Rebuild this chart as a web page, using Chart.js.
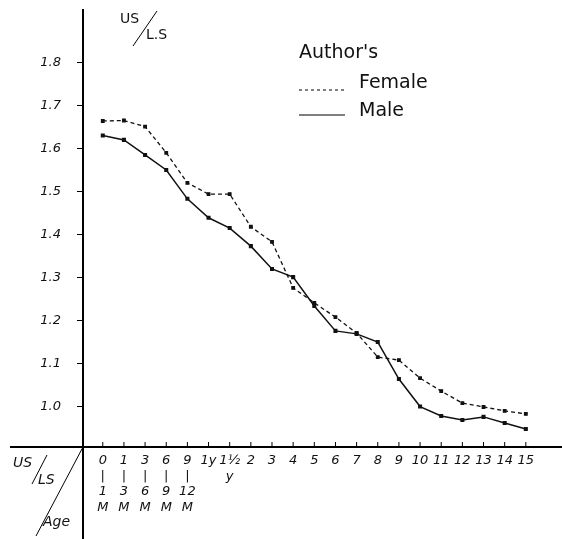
<!DOCTYPE html>
<html>
<head>
<meta charset="utf-8">
<script src="https://cdn.jsdelivr.net/npm/chart.js@4.4.1/dist/chart.umd.min.js"></script>
<style>
  html, body { margin: 0; padding: 0; background: #fff; }
  canvas { display: block; }
</style>
</head>
<body>
<canvas id="ratio-chart" width="562" height="539"></canvas>
<script>
// age categories along the bottom
const ageLabels = ['0', '1', '3', '6', '9', '1y', '1½', '2', '3', '4', '5', '6', '7', '8', '9', '10', '11', '12', '13', '14', '15'];
// second rows under the first labels (months) and the 1½ year label
const ageSubLabels = [['|', '1', 'M'], ['|', '3', 'M'], ['|', '6', 'M'], ['|', '9', 'M'], ['|', '12', 'M'], [], ['y'],
    [], [], [], [], [], [], [], [], [], [], [], [], [], []];
const yTickValues = [1.0, 1.1, 1.2, 1.3, 1.4, 1.5, 1.6, 1.7, 1.8];

const femaleRatio = [1.665, 1.666, 1.652, 1.591, 1.521, 1.495, 1.495, 1.419, 1.384, 1.277, 1.242, 1.209, 1.172, 1.116, 1.109, 1.067, 1.037, 1.009, 1.000, 0.991, 0.984];
const maleRatio = [1.631, 1.621, 1.586, 1.551, 1.484, 1.440, 1.416, 1.374, 1.321, 1.302, 1.235, 1.177, 1.170, 1.151, 1.065, 1.001, 0.979, 0.970, 0.977, 0.963, 0.949];

const handFont = { family: 'DejaVu Sans', size: 13, style: 'italic' };

const decorations = {
    id: 'decorations',
    afterDraw(chart) {
        const ctx = chart.ctx;
        const area = chart.chartArea;
        const xs = chart.scales.x;
        ctx.save();
        ctx.strokeStyle = '#000';
        ctx.fillStyle = '#111';

        // axis lines carried past the origin
        ctx.lineWidth = 2;
        ctx.beginPath();
        ctx.moveTo(area.left, area.bottom);
        ctx.lineTo(area.left, chart.height);
        ctx.moveTo(10, area.bottom);
        ctx.lineTo(area.left, area.bottom);
        ctx.moveTo(area.right, area.bottom);
        ctx.lineTo(chart.width, area.bottom);
        ctx.stroke();

        // small ticks above the x axis
        ctx.lineWidth = 1;
        ctx.beginPath();
        xs.ticks.forEach(t => {
            const px = xs.getPixelForValue(t.value);
            ctx.moveTo(px, area.bottom);
            ctx.lineTo(px, area.bottom - 5);
        });
        ctx.stroke();

        // corner key
        ctx.beginPath();
        ctx.moveTo(area.left, area.bottom);
        ctx.lineTo(36, 536);
        ctx.moveTo(47, 455);
        ctx.lineTo(32, 484);
        ctx.stroke();
        ctx.font = 'italic 14px "DejaVu Sans"';
        ctx.textBaseline = 'middle';
        ctx.fillText('US', 13, 463);
        ctx.fillText('LS', 38, 480);
        ctx.fillText('Age', 43, 522);

        // y axis title
        ctx.font = '14px "DejaVu Sans"';
        ctx.fillText('US', 120, 19);
        ctx.fillText('L.S', 146, 35);
        ctx.beginPath();
        ctx.moveTo(157, 11);
        ctx.lineTo(133, 46);
        ctx.stroke();

        // legend
        ctx.font = '19px "DejaVu Sans"';
        ctx.fillText("Author's", 299, 53);
        ctx.fillText('Female', 359, 83);
        ctx.fillText('Male', 359, 111);
        ctx.lineWidth = 1.2;
        ctx.setLineDash([3, 3]);
        ctx.beginPath();
        ctx.moveTo(299, 90);
        ctx.lineTo(345, 90);
        ctx.stroke();
        ctx.setLineDash([]);
        ctx.beginPath();
        ctx.moveTo(299, 115);
        ctx.lineTo(345, 115);
        ctx.stroke();
        ctx.restore();
    }
};

new Chart(document.getElementById('ratio-chart'), {
    type: 'line',
    data: {
        datasets: [{
            label: 'Female',
            data: femaleRatio.map((v, i) => ({ x: i, y: v })),
            borderColor: '#111',
            backgroundColor: '#111',
            borderWidth: 1.3,
            borderDash: [4, 3],
            pointStyle: 'rect',
            pointRadius: 1.8,
            tension: 0
        }, {
            label: 'Male',
            data: maleRatio.map((v, i) => ({ x: i, y: v })),
            borderColor: '#111',
            backgroundColor: '#111',
            borderWidth: 1.5,
            pointStyle: 'rect',
            pointRadius: 1.8,
            tension: 0
        }]
    },
    options: {
        responsive: false,
        animation: false,
        layout: { padding: { top: 10, right: 0, left: 0, bottom: 0 } },
        plugins: { legend: { display: false }, tooltip: { enabled: false } },
        scales: {
            x: {
                type: 'linear',
                min: -0.935,
                max: 21.45,
                afterBuildTicks: s => { s.ticks = ageLabels.map((_, i) => ({ value: i })); },
                afterFit: s => { s.height = 92; s.paddingLeft = 0; s.paddingRight = 0; },
                ticks: {
                    autoSkip: false,
                    maxRotation: 0,
                    padding: 6,
                    color: '#111',
                    font: handFont,
                    callback: v => [ageLabels[v]].concat(ageSubLabels[v])
                },
                grid: { drawOnChartArea: false, drawTicks: false },
                border: { color: '#000', width: 2 }
            },
            y: {
                min: 0.907,
                max: 1.923,
                afterBuildTicks: s => { s.ticks = yTickValues.map(v => ({ value: v })); },
                afterFit: s => { s.width = 83; s.paddingTop = 0; s.paddingBottom = 0; },
                ticks: {
                    padding: 16,
                    color: '#111',
                    font: handFont,
                    callback: v => v.toFixed(1)
                },
                grid: { drawOnChartArea: false, tickLength: 6, color: '#000' },
                border: { color: '#000', width: 2 }
            }
        }
    },
    plugins: [decorations]
});
</script>
</body>
</html>
